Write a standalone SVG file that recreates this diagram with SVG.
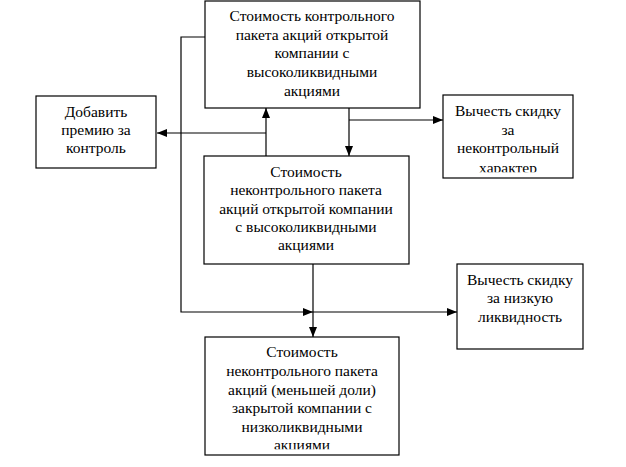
<svg xmlns="http://www.w3.org/2000/svg" width="626" height="467" viewBox="0 0 626 467">
<style>
.box{fill:#fff;stroke:#000;stroke-width:1.2}
.t{font-family:'Liberation Serif','Times New Roman',serif;font-size:15.5px;fill:#000;text-anchor:middle}
.c{fill:none;stroke:#000;stroke-width:1.2}
</style>
<defs>
<marker id="ah" viewBox="0 0 10 8" refX="10" refY="4" markerWidth="10" markerHeight="8" markerUnits="userSpaceOnUse" orient="auto"><path d="M0,0 L10,4 L0,8 Z" fill="#000"/></marker>
<clipPath id="cpA"><rect x="443" y="95" width="130" height="77.3"/></clipPath>
<clipPath id="cpB"><rect x="205" y="337" width="194" height="112.3"/></clipPath>
</defs>
<rect width="626" height="467" fill="#fff"/>
<g id="connectors">
<path class="c" d="M266,156 V108" marker-end="url(#ah)"/>
<path class="c" d="M266,133 H157" marker-end="url(#ah)"/>
<path class="c" d="M349,108 V156" marker-end="url(#ah)"/>
<path class="c" d="M349,120 H443" marker-end="url(#ah)"/>
<path class="c" d="M217,37 H181 V312 H313" marker-end="url(#ah)"/>
<path class="c" d="M313,264 V337" marker-end="url(#ah)"/>
<path class="c" d="M313,312 H457" marker-end="url(#ah)"/>
</g>
<g id="n1">
<rect class="box" x="205" y="1" width="215" height="107"/>
<text class="t" x="312" y="21">Стоимость контрольного</text>
<text class="t" x="312" y="39.5">пакета акций открытой</text>
<text class="t" x="312" y="58">компании с</text>
<text class="t" x="312" y="77">высоколиквидными</text>
<text class="t" x="312" y="95.5">акциями</text>
</g>
<g id="n2">
<rect class="box" x="36" y="96" width="120" height="72"/>
<text class="t" x="96" y="117">Добавить</text>
<text class="t" x="96" y="135">премию за</text>
<text class="t" x="96" y="153">контроль</text>
</g>
<g id="n3">
<rect class="box" x="443" y="95" width="130" height="83"/>
<g clip-path="url(#cpA)">
<text class="t" x="508" y="116">Вычесть скидку</text>
<text class="t" x="508" y="134.7">за</text>
<text class="t" x="508" y="153.3">неконтрольный</text>
<text class="t" x="508" y="172.5">характер</text>
</g>
</g>
<g id="n4">
<rect class="box" x="204" y="156" width="205" height="108"/>
<text class="t" x="306" y="177">Стоимость</text>
<text class="t" x="306" y="195">неконтрольного пакета</text>
<text class="t" x="306" y="213.5">акций открытой компании</text>
<text class="t" x="306" y="232">с высоколиквидными</text>
<text class="t" x="306" y="249.5">акциями</text>
</g>
<g id="n5">
<rect class="box" x="457" y="264" width="126" height="85"/>
<text class="t" x="520" y="285">Вычесть скидку</text>
<text class="t" x="520" y="303">за низкую</text>
<text class="t" x="520" y="322">ликвидность</text>
</g>
<g id="n6">
<rect class="box" x="205" y="337" width="194" height="118"/>
<g clip-path="url(#cpB)">
<text class="t" x="302" y="357.3">Стоимость</text>
<text class="t" x="302" y="376">неконтрольного пакета</text>
<text class="t" x="302" y="394.7">акций (меньшей доли)</text>
<text class="t" x="302" y="413.3">закрытой компании с</text>
<text class="t" x="302" y="431.7">низколиквидными</text>
<text class="t" x="302" y="450.3">акциями</text>
</g>
</g>
</svg>
